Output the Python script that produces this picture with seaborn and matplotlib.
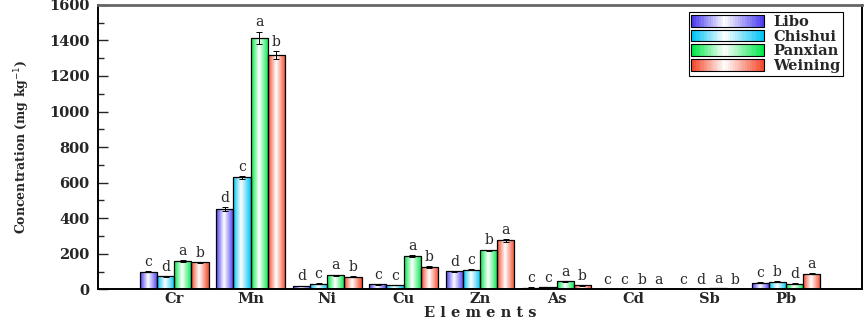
import numpy as np
import pandas as pd
import matplotlib
matplotlib.use("Agg")
import matplotlib.pyplot as plt
import seaborn as sns
from matplotlib.colors import LinearSegmentedColormap
from matplotlib.legend_handler import HandlerBase
from matplotlib.patches import Rectangle

elements = ['Cr', 'Mn', 'Ni', 'Cu', 'Zn', 'As', 'Cd', 'Sb', 'Pb']
sites = ['Libo', 'Chishui', 'Panxian', 'Weining']

libo = [99, 451, 19, 28, 101, 10, 0.6, 1.0, 38]
chishui = [73, 630, 32, 24, 110, 11, 0.4, 2.0, 43]
panxian = [159, 1415, 80, 187, 220, 45, 1.2, 5.0, 32]
weining = [151, 1318, 71, 124, 275, 22, 2.2, 3.0, 88]

libo_err = [3, 10, 2, 2, 4, 1, 0.1, 0.2, 2]
chishui_err = [3, 8, 2, 2, 4, 1, 0.1, 0.2, 2]
panxian_err = [4, 35, 3, 4, 4, 2, 0.1, 0.3, 2]
weining_err = [4, 20, 3, 5, 6, 1, 0.1, 0.2, 3]

letters = {
    'Libo':    ['c', 'd', 'd', 'c', 'd', 'c', 'c', 'c', 'c'],
    'Chishui': ['d', 'c', 'c', 'c', 'c', 'c', 'c', 'd', 'b'],
    'Panxian': ['a', 'a', 'a', 'a', 'b', 'a', 'b', 'a', 'd'],
    'Weining': ['b', 'b', 'b', 'b', 'a', 'b', 'a', 'b', 'a'],
}

colors = {'Libo': '#4a3cf0', 'Chishui': '#00c4f4', 'Panxian': '#00e848', 'Weining': '#f44a2c'}

values = {'Libo': libo, 'Chishui': chishui, 'Panxian': panxian, 'Weining': weining}
errors = {'Libo': libo_err, 'Chishui': chishui_err, 'Panxian': panxian_err, 'Weining': weining_err}

rows = []
for s in sites:
    for e, v in zip(elements, values[s]):
        rows.append({'Element': e, 'Site': s, 'Value': v})
df = pd.DataFrame(rows)

sns.set_style('ticks')
plt.rcParams['font.family'] = ['DejaVu Serif']

fig = plt.figure(figsize=(8.65, 3.24), dpi=100)
ax = fig.add_axes([0.113, 0.107, 0.884, 0.878])

sns.barplot(data=df, x='Element', y='Value', hue='Site', order=elements,
            hue_order=sites, palette=colors, errorbar=None, width=0.9,
            edgecolor='black', linewidth=0.9, legend=False, ax=ax)


def gradient_cmap(c):
    return LinearSegmentedColormap.from_list('g', [(0, c), (0.45, 'white'), (1, c)])


prof = np.linspace(0, 1, 64).reshape(1, -1)

for cont, s in zip(ax.containers, sites):
    cmap = gradient_cmap(colors[s])
    for i, p in enumerate(cont.patches):
        x0, w, h = p.get_x(), p.get_width(), p.get_height()
        p.set_facecolor('none')
        p.set_zorder(3)
        im = ax.imshow(prof, extent=[x0, x0 + w, 0, h], aspect='auto', cmap=cmap,
                       zorder=2, interpolation='bilinear')
        im.set_clip_path(p)
        cx = x0 + w / 2
        err = errors[s][i]
        ax.errorbar(cx, h, yerr=err, fmt='none', ecolor='black', elinewidth=0.7,
                    capsize=2.5, capthick=0.7, zorder=4)
        ax.text(cx, h + err + 12, letters[s][i], ha='center', va='bottom',
                fontsize=10, family='DejaVu Serif', zorder=5)

ax.set_xlim(-1, 9)
ax.set_ylim(0, 1600)

ax.set_yticks(np.arange(0, 1601, 200))
ax.set_yticks(np.arange(0, 1601, 100), minor=True)
ax.tick_params(axis='y', which='major', direction='in', length=7, width=1, pad=6)
ax.tick_params(axis='y', which='minor', direction='in', length=4, width=1)
ax.tick_params(axis='x', length=0, pad=2)
for lab in ax.get_xticklabels() + ax.get_yticklabels():
    lab.set_fontweight('bold')
    lab.set_fontsize(10.5)

ax.set_xlabel('E l e m e n t s', fontsize=10.5, fontweight='bold', labelpad=0)
ax.set_ylabel('Concentration (mg kg$^{-1}$)', fontsize=9, fontweight='bold', labelpad=12)

for side in ['left', 'right', 'bottom']:
    ax.spines[side].set_linewidth(1.4)
    ax.spines[side].set_color('black')
ax.spines['top'].set_linewidth(2)
ax.spines['top'].set_color('#666666')


class GradHandler(HandlerBase):
    def __init__(self, color):
        super().__init__()
        self.color = color

    def create_artists(self, legend, orig_handle, xdescent, ydescent, width, height, fontsize, trans):
        cmap = gradient_cmap(self.color)
        n = 30
        arts = []
        for k in range(n):
            r = Rectangle((-xdescent + width * k / n, -ydescent), width / n + 0.3, height,
                          facecolor=cmap(k / (n - 1)), edgecolor='none', transform=trans)
            arts.append(r)
        arts.append(Rectangle((-xdescent, -ydescent), width, height, facecolor='none',
                              edgecolor='black', lw=0.8, transform=trans))
        return arts


handles = [Rectangle((0, 0), 1, 1) for _ in sites]
leg = ax.legend(handles, sites, loc='upper right', bbox_to_anchor=(0.975, 0.975),
                handler_map={h: GradHandler(colors[s]) for h, s in zip(handles, sites)},
                frameon=True, fancybox=False, edgecolor='black', framealpha=1,
                prop={'weight': 'bold', 'size': 10.5}, handlelength=5.0, handleheight=0.85,
                labelspacing=0.05, borderpad=0.2, handletextpad=0.6, borderaxespad=0)
leg.get_frame().set_linewidth(0.8)

fig.savefig('out.png', dpi=100)
